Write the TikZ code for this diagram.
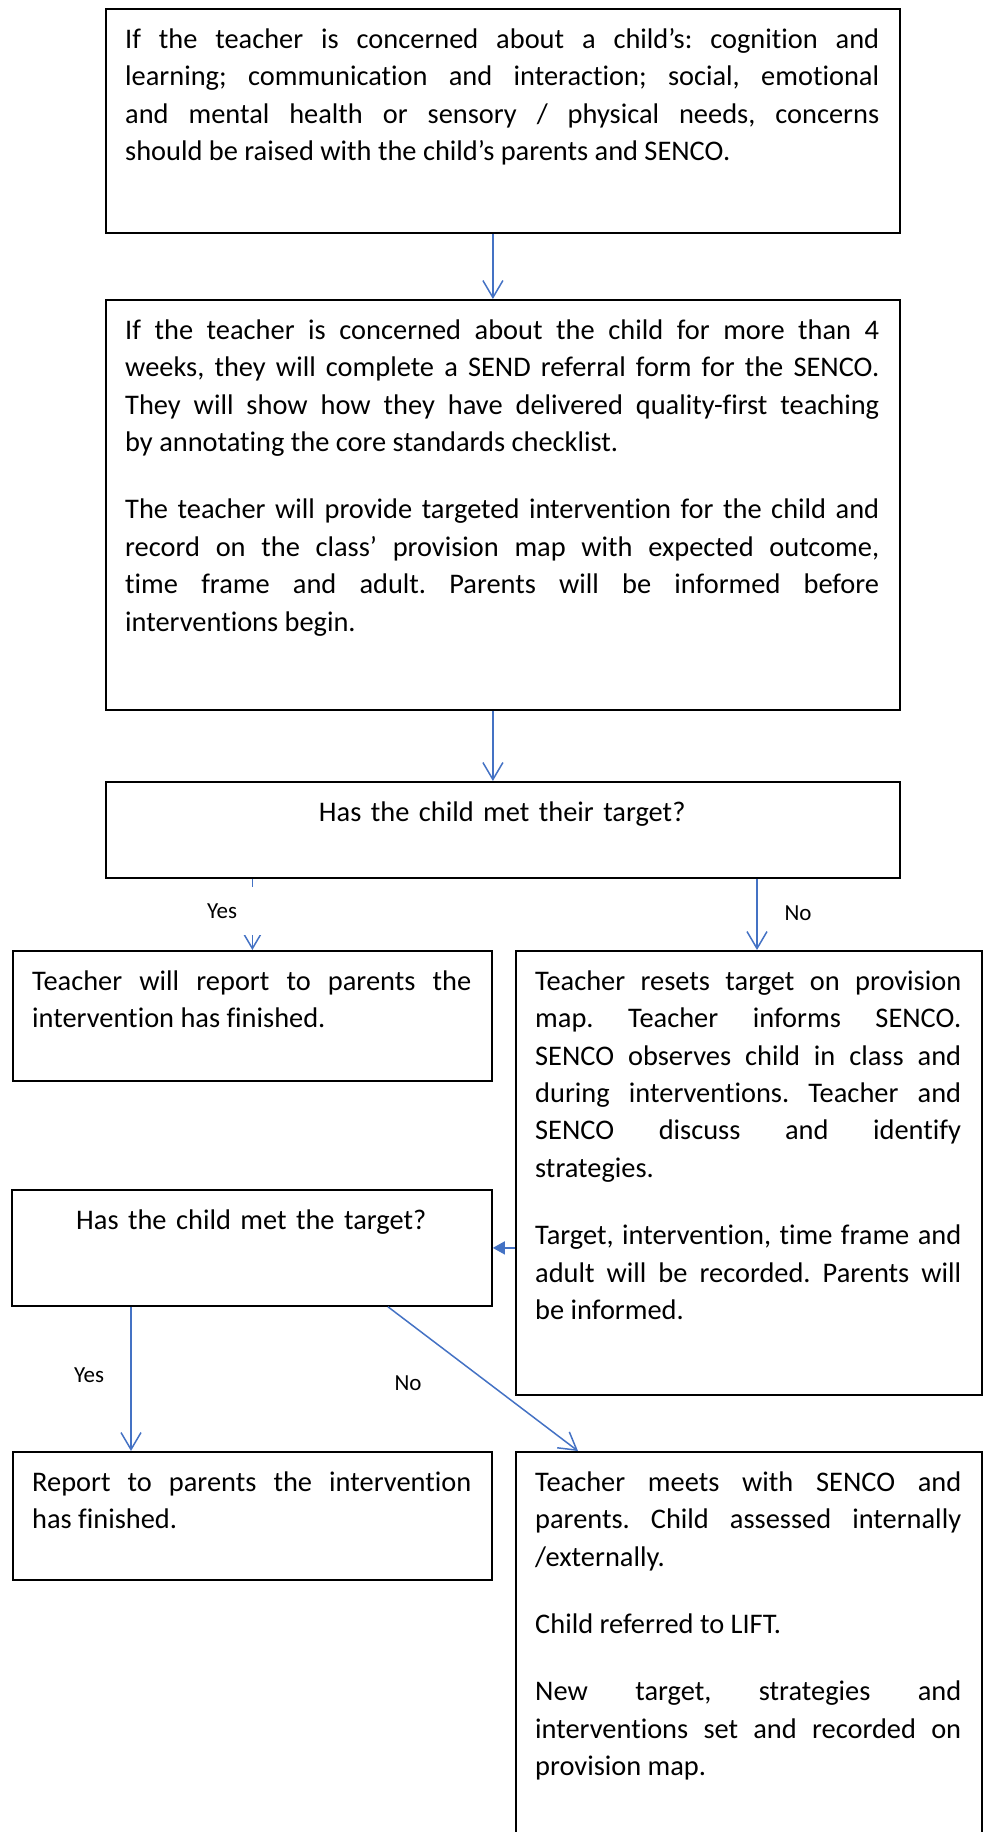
\documentclass[tikz,border=0pt]{standalone}
\usepackage{fontspec}
\setmainfont{Carlito}[Ligatures={NoCommon,NoContextual}]
\usetikzlibrary{arrows.meta}
\definecolor{flowblue}{RGB}{68,114,196}
\setlength{\parindent}{0pt}
\tolerance=10000
\hbadness=10000
\frenchspacing

\begin{document}
\begin{tikzpicture}[x=1pt,y=-1pt]
\tikzstyle{every node}+=[inner sep=0pt]
\tikzstyle{box}=[draw=black, line width=1.8pt, rectangle, anchor=north west]
\tikzstyle{txt}=[anchor=north west, align=justify, font=\fontsize{28.4}{37.4}\selectfont]
\tikzstyle{mid}=[anchor=north west, align=center, font=\fontsize{28.4}{37.4}\selectfont]
\tikzstyle{lbl}=[font=\fontsize{23}{28}\selectfont]
\tikzstyle{arrow}=[draw=flowblue, line width=1.5pt, -{Straight Barb[length=17pt,width=20pt]}]
\path[use as bounding box, clip] (0,0) rectangle (983,1832);

% boxes
\node[box, minimum width=794, minimum height=224] (concern) at (105,8) {};
\node[box, minimum width=794, minimum height=410] (referral) at (105,299) {};
\node[box, minimum width=794, minimum height=96] (checkone) at (105,781) {};
\node[box, minimum width=479, minimum height=130] (report) at (12,950) {};
\node[box, minimum width=466, minimum height=444] (resets) at (515,950) {};
\node[box, minimum width=480, minimum height=116] (checktwo) at (11,1189) {};
\node[box, minimum width=479, minimum height=128] (reportdone) at (12,1451) {};
\node[box, minimum width=466, minimum height=420] (meets) at (515,1451) {};

% texts
\node[txt, text width=754pt] (concerntext) at (125,22) {\strut If the teacher is concerned about a child’s: cognition and\linebreak learning; communication and interaction; social, emotional\linebreak and mental health or sensory / physical needs, concerns\linebreak should be raised with the child’s parents and SENCO.};
\node[txt, text width=754pt] (referraltext) at (125,313) {\strut If the teacher is concerned about the child for more than 4\linebreak weeks, they will complete a SEND referral form for the SENCO.\linebreak They will show how they have delivered quality-first teaching\linebreak by annotating the core standards checklist.\par\vspace{30pt}The teacher will provide targeted intervention for the child and\linebreak record on the class’ provision map with expected outcome,\linebreak time frame and adult. Parents will be informed before\linebreak interventions begin.};
\node[mid, text width=754pt] (checkonetext) at (125,795) {\strut Has the child met their target?};
\node[txt, text width=439pt] (reporttext) at (32,964) {\strut Teacher will report to parents the\linebreak intervention has finished.};
\node[txt, text width=426pt] (resetstext) at (535,964) {\strut Teacher resets target on provision\linebreak map. Teacher informs SENCO.\linebreak SENCO observes child in class and\linebreak during interventions. Teacher and\linebreak SENCO discuss and identify\linebreak strategies.\par\vspace{30pt}Target, intervention, time frame and\linebreak adult will be recorded. Parents will\linebreak be informed.};
\node[mid, text width=440pt] (checktwotext) at (31,1203) {\strut Has the child met the target?};
\node[txt, text width=439pt] (reportdonetext) at (32,1465) {\strut Report to parents the intervention\linebreak has finished.};
\node[txt, text width=426pt] (meetstext) at (535,1465) {\strut Teacher meets with SENCO and\linebreak parents. Child assessed internally\linebreak /externally.\par\vspace{30pt}Child referred to LIFT.\par\vspace{30pt}New target, strategies and\linebreak interventions set and recorded on\linebreak provision map.};

% arrows
\draw[arrow] ([xshift=-10pt]concern.south) -- ([xshift=-10pt]referral.north);
\draw[arrow] ([xshift=-10pt]referral.south) -- ([xshift=-10pt]checkone.north);
\draw[arrow] (report.north |- checkone.south) -- (report.north);
\node[lbl, fill=white, minimum width=110, minimum height=48] (yesone) at (222,911) {Yes};
\draw[arrow] (checkone.south -| 757,0) -- (resets.north -| 757,0);
\node[lbl] (noone) at (798,913) {No};
\draw[draw=flowblue, line width=1.5pt, -{Triangle[length=12pt,width=13pt]}] (resets.west |- checktwo.east) -- (checktwo.east);
\draw[arrow] (checktwo.south -| 131,0) -- (reportdone.north -| 131,0);
\node[lbl] (yestwo) at (89,1375) {Yes};
\draw[arrow] (checktwo.south -| 388,0) -- (meets.north -| 578,0);
\node[lbl] (notwo) at (408,1383) {No};
\end{tikzpicture}
\end{document}
